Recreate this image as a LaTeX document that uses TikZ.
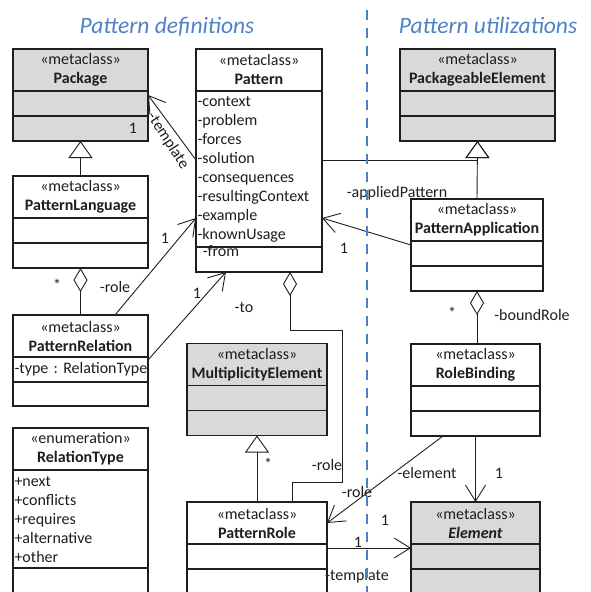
\documentclass[tikz,border=0pt]{standalone}
\usepackage{fontspec}
\setmainfont{Carlito}
\usepackage{xcolor}
\definecolor{ink}{HTML}{1E1E1E}
\definecolor{metagrey}{HTML}{D9D9D9}
\definecolor{headblue}{HTML}{4F81C7}
\definecolor{divblue}{HTML}{4A7FCB}
\usetikzlibrary{arrows.meta,positioning}
\tikzset{
  hdr/.style  ={draw=ink,line width=1.2pt,fill=white,outer sep=0pt,inner sep=0pt,
                minimum height=42pt,align=center,text=ink},
  cmp/.style  ={draw=ink,line width=1.2pt,fill=white,outer sep=0pt,inner sep=0pt,
                minimum height=25pt},
  attrs/.style={draw=ink,line width=1.2pt,fill=white,outer sep=0pt,inner xsep=1.5pt,
                inner ysep=0pt,text width=#1,align=left,text=ink},
  grey/.style ={fill=metagrey},
  lbl/.style  ={text=ink,inner sep=0pt},
  title/.style={text=headblue,font=\fontsize{23.5}{26}\selectfont\itshape,anchor=base},
  gen/.style  ={-{Triangle[open,length=17pt,width=24pt]},draw=ink,line width=0.9pt},
  assoc/.style={-{Straight Barb[length=16pt,width=20pt]},draw=ink,line width=0.9pt},
  agg/.style  ={-{Diamond[open,length=24pt,width=14pt]},draw=ink,line width=0.9pt},
}

\begin{document}
\frenchspacing
\begin{tikzpicture}[x=1pt,y=-1pt,font=\fontsize{16}{19}\selectfont]
\useasboundingbox (0,0) rectangle (590,592);
\clip (0,0) rectangle (590,592);

% titles
\node[title] (tdef) at (167,33) {Pattern definitions};
\node[title] (tuse) at (488,33) {Pattern utilizations};

%================= pattern definitions
\node[hdr,grey,minimum width=135pt] (pkg) at (80.5,70) {«metaclass»\\\textbf{Package}};
\node[cmp,grey,minimum width=135pt,below=0pt of pkg] (pkg-a) {};
\node[cmp,grey,minimum width=135pt,below=0pt of pkg-a] (pkg-b) {};

\node[hdr,minimum width=126pt] (pat) at (259,70) {«metaclass»\\\textbf{Pattern}};
\node[attrs=123pt,minimum height=156pt,below=0pt of pat] (pat-a)
  {-context\\-problem\\-forces\\-solution\\-consequences\\-resultingContext\\-example\\-knownUsage};
\node[cmp,minimum width=126pt,below=0pt of pat-a] (pat-b) {};

\node[hdr,minimum width=135pt] (plang) at (80.5,197) {«metaclass»\\\textbf{PatternLanguage}};
\node[cmp,minimum width=135pt,below=0pt of plang] (plang-a) {};
\node[cmp,minimum width=135pt,below=0pt of plang-a] (plang-b) {};

\node[hdr,minimum width=135pt] (prel) at (80.5,336) {«metaclass»\\\textbf{PatternRelation}};
\node[attrs=132pt,minimum height=25pt,below=0pt of prel] (prel-a) {\mbox{-type : RelationType}};
\node[cmp,minimum width=135pt,minimum height=24pt,below=0pt of prel-a] (prel-b) {};

\node[hdr,minimum width=135pt] (rtype) at (80.5,449) {«enumeration»\\\textbf{RelationType}};
\node[attrs=132pt,minimum height=98pt,below=0pt of rtype] (rtype-a)
  {+next\\+conflicts\\+requires\\+alternative\\+other};
\node[cmp,minimum width=135pt,below=0pt of rtype-a] (rtype-b) {};

\node[hdr,grey,minimum width=140pt] (melem) at (257,364.5) {«metaclass»\\\textbf{MultiplicityElement}};
\node[cmp,grey,minimum width=140pt,below=0pt of melem] (melem-a) {};
\node[cmp,grey,minimum width=140pt,below=0pt of melem-a] (melem-b) {};

\node[hdr,minimum width=140pt] (prole) at (257,523) {«metaclass»\\\textbf{PatternRole}};
\node[cmp,minimum width=140pt,below=0pt of prole] (prole-a) {};
\node[cmp,minimum width=140pt,below=0pt of prole-a] (prole-b) {};

%================= pattern utilizations
\node[hdr,grey,minimum width=155pt] (pe) at (477.5,70) {«metaclass»\\\textbf{PackageableElement}};
\node[cmp,grey,minimum width=155pt,below=0pt of pe] (pe-a) {};
\node[cmp,grey,minimum width=155pt,below=0pt of pe-a] (pe-b) {};

\node[hdr,minimum width=132pt] (papp) at (477,220) {«metaclass»\\\textbf{PatternApplication}};
\node[cmp,minimum width=132pt,below=0pt of papp] (papp-a) {};
\node[cmp,minimum width=132pt,below=0pt of papp-a] (papp-b) {};

\node[hdr,minimum width=129pt] (rbind) at (475.5,365) {«metaclass»\\\textbf{RoleBinding}};
\node[cmp,minimum width=129pt,below=0pt of rbind] (rbind-a) {};
\node[cmp,minimum width=129pt,below=0pt of rbind-a] (rbind-b) {};

\node[hdr,grey,minimum width=129pt] (elem) at (475.5,523) {«metaclass»\\\textbf{\textit{Element}}};
\node[cmp,grey,minimum width=129pt,below=0pt of elem] (elem-a) {};
\node[cmp,grey,minimum width=129pt,below=0pt of elem-a] (elem-b) {};

%================= connectors
\draw[gen] (plang.north) -- (pkg-b.south);
\draw[gen] (papp.north) -- (pe-b.south);
\draw[gen] ([yshift=9pt]pat-a.east) -| (pe-b.south);
\draw[gen] (prole.north) -- (melem-b.south);

\draw[assoc] ([yshift=9pt]pat-a.west) -- ([yshift=-4pt]pkg-a.north east);
\draw[assoc] ([yshift=-4pt]papp-a.north west) -- ([yshift=-49pt]pat-a.east);
\draw[assoc] ([xshift=34.5pt]prel.north) -- ([yshift=-49pt]pat-a.west);
\draw[assoc] ([yshift=-3pt]prel-a.north east) -- ([xshift=-33pt]pat-b.south);
\draw[assoc] ([xshift=-32.5pt]rbind-b.south) -- (prole.east);
\draw[assoc] (rbind-b.south) -- (elem.north);
\draw[assoc] ([yshift=-4pt]prole-a.north east) -- ([yshift=-4pt]elem-a.north west);

\draw[agg] (prel.north) -- (plang-b.south);
\draw[agg] (papp-b.south |- rbind.north) -- (papp-b.south);
\draw[agg] ([xshift=35pt]prole.north) -- ++(0,-20) -- ++(50,0) -- ++(0,-152)
  -| ([xshift=31pt]pat-b.south);

% association ends
\node[lbl,rotate=-57] at (168,141) {-template};
\node[lbl] at (133,128) {1};
\node[lbl] at (57,285) {*};
\node[lbl] at (115,287) {-role};
\node[lbl] at (165,238) {1};
\node[lbl] at (197,293) {1};
\node[lbl] at (221,251) {-from};
\node[lbl] at (244,307) {-to};
\node[lbl] at (397,193) {-appliedPattern};
\node[lbl] at (344,248) {1};
\node[lbl] at (452,313) {*};
\node[lbl] at (532,315) {-boundRole};
\node[lbl] at (268,464) {*};
\node[lbl] at (327,465) {-role};
\node[lbl] at (357,492) {-role};
\node[lbl] at (427,473) {-element};
\node[lbl] at (499,473) {1};
\node[lbl] at (385,520) {1};
\node[lbl] at (358,542) {1};
\node[lbl] at (357,576) {-template};

% divider
\draw[divblue,line width=1.3pt,dash pattern=on 10pt off 8pt] (367,10) -- (367,592);
\end{tikzpicture}
\end{document}
